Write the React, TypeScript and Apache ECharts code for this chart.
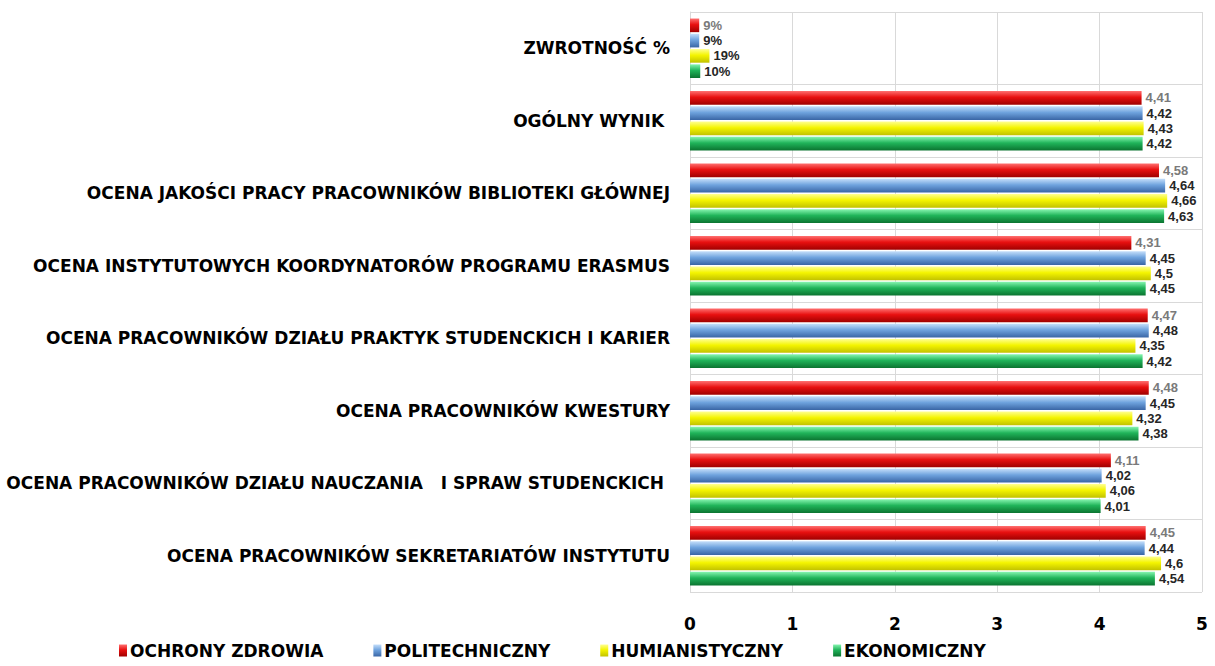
import React, { useEffect, useRef } from "react";
import * as echarts from "echarts";

const categories = [
  "ZWROTNOŚĆ %",
  "OGÓLNY WYNIK ",
  "OCENA JAKOŚCI PRACY PRACOWNIKÓW BIBLIOTEKI GŁÓWNEJ",
  "OCENA INSTYTUTOWYCH KOORDYNATORÓW PROGRAMU ERASMUS",
  "OCENA PRACOWNIKÓW DZIAŁU PRAKTYK STUDENCKICH I KARIER",
  "OCENA PRACOWNIKÓW KWESTURY",
  "OCENA PRACOWNIKÓW DZIAŁU NAUCZANIA   I SPRAW STUDENCKICH ",
  "OCENA PRACOWNIKÓW SEKRETARIATÓW INSTYTUTU",
];

const seriesNames = ["OCHRONY ZDROWIA", "POLITECHNICZNY", "HUMIANISTYCZNY", "EKONOMICZNY"];

const ochronyZdrowia = [0.09, 4.41, 4.58, 4.31, 4.47, 4.48, 4.11, 4.45];
const politechniczny = [0.09, 4.42, 4.64, 4.45, 4.48, 4.45, 4.02, 4.44];
const humanistyczny = [0.19, 4.43, 4.66, 4.5, 4.35, 4.32, 4.06, 4.6];
const ekonomiczny = [0.1, 4.42, 4.63, 4.45, 4.42, 4.38, 4.01, 4.54];

const xTicks = [0, 1, 2, 3, 4, 5];

const FONT = "'DejaVu Sans', 'Open Sans', 'Liberation Sans', sans-serif";
const LABEL_FONT = "'Liberation Sans', Arial, sans-serif";

const grad = (top: string, mid: string, bottom: string) =>
  new echarts.graphic.LinearGradient(0, 0, 0, 1, [
    { offset: 0, color: top },
    { offset: 0.45, color: mid },
    { offset: 1, color: bottom },
  ]);

const styles = [
  { fill: grad("#ff7070", "#e81010", "#a00000"), label: "#7a7a7a" },
  { fill: grad("#c4defa", "#6fa3de", "#3a66a6"), label: "#262626" },
  { fill: grad("#ffff90", "#f4f400", "#c2c200"), label: "#262626" },
  { fill: grad("#86f5b0", "#20b45a", "#0b7430"), label: "#262626" },
];

const dataSets = [ochronyZdrowia, politechniczny, humanistyczny, ekonomiczny];

export default function App() {
  const ref = useRef<HTMLDivElement>(null);
  useEffect(() => {
    document.body.style.margin = "0";
    if (!ref.current) return;
    const chart = echarts.init(ref.current, undefined, { renderer: "svg" });
    chart.setOption({
      animation: false,
      backgroundColor: "#ffffff",
      grid: {
        left: 690,
        right: 13,
        top: 12,
        bottom: 74,
        containLabel: false,
        outerBoundsMode: "none",
      },
      legend: {
        bottom: 2,
        left: 114,
        itemWidth: 8,
        itemHeight: 12,
        itemGap: 50,
        icon: "rect",
        textStyle: { fontFamily: FONT, fontWeight: "bold", fontSize: 17, color: "#000", padding: [0, 0, 0, -2] },
        data: seriesNames,
      },
      xAxis: {
        type: "value",
        min: 0,
        max: 5,
        interval: 1,
        axisLine: { show: false },
        axisTick: { show: false },
        splitLine: { show: true, lineStyle: { color: "#d9d9d9" } },
        axisLabel: {
          margin: 23,
          fontFamily: FONT,
          fontWeight: "bold",
          fontSize: 17,
          color: "#000",
          formatter: (v: number) => (xTicks.includes(v) ? String(v) : ""),
        },
      },
      yAxis: {
        type: "category",
        inverse: true,
        data: categories,
        axisLine: { show: true, lineStyle: { color: "#d9d9d9" } },
        axisTick: { show: false },
        splitLine: { show: true, lineStyle: { color: "#d9d9d9" } },
        axisLabel: {
          margin: 20,
          fontFamily: FONT,
          fontWeight: "bold",
          fontSize: 17,
          color: "#000",
        },
      },
      series: dataSets.map((d, i) => ({
        type: "bar",
        name: seriesNames[i],
        data: d,
        barGap: "12%",
        barCategoryGap: "18%",
        itemStyle: { color: styles[i].fill },
        label: {
          show: true,
          position: "right",
          distance: 4,
          fontFamily: LABEL_FONT,
          fontWeight: "bold",
          fontSize: 13,
          lineHeight: 13,
          padding: 0,
          color: styles[i].label,
          formatter: (p: any) =>
            p.dataIndex === 0
              ? Math.round(p.value * 100) + "%"
              : String(p.value).replace(".", ","),
        },
      })),
    });
    return () => chart.dispose();
  }, []);
  return <div ref={ref} style={{ width: 1215, height: 666 }} />;
}
